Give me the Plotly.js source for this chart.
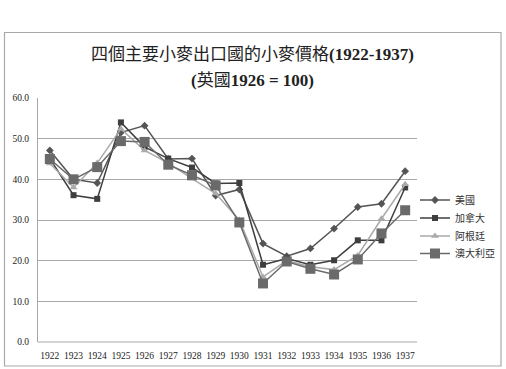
<!DOCTYPE html>
<html>
<head>
<meta charset="utf-8">
<script src="https://cdn.plot.ly/plotly-3.0.1.min.js"></script>
<style>html,body{margin:0;padding:0;background:#fff;}</style>
</head>
<body>
<div id="chart" style="width:506px;height:369px;"></div>
<script>
const years = ["1922","1923","1924","1925","1926","1927","1928","1929","1930","1931","1932","1933","1934","1935","1936","1937"];
const usa       = [47.1, 40.0, 39.1, 51.5, 53.2, 45.0, 45.1, 36.0, 37.5, 24.2, 21.1, 23.0, 27.9, 33.2, 34.0, 42.0];
const canada    = [45.1, 36.1, 35.2, 54.0, 48.0, 45.1, 42.9, 39.0, 39.1, 19.0, 20.5, 19.0, 20.1, 25.0, 25.0, 38.0];
const argentina = [43.9, 38.0, 44.0, 52.4, 47.1, 44.0, 40.2, 36.5, 30.0, 16.0, 20.0, 18.5, 17.8, 21.3, 30.3, 38.8];
const australia = [45.0, 40.0, 43.0, 49.4, 49.2, 43.6, 41.0, 38.5, 29.4, 14.4, 19.8, 18.0, 16.6, 20.3, 26.7, 32.4];
const seriesNames = ["美國", "加拿大", "阿根廷", "澳大利亞"];
const yTicks = [0, 10, 20, 30, 40, 50, 60];
const yTickText = ["0.0", "10.0", "20.0", "30.0", "40.0", "50.0", "60.0"];

const serif = "Liberation Serif, 'Noto Sans CJK TC', serif";
const styles = [
  {color: "#555555", symbol: "diamond", size: 6},
  {color: "#3e3e3e", symbol: "square", size: 6},
  {color: "#aaaaaa", symbol: "triangle-up", size: 7},
  {color: "#6a6a6a", symbol: "square", size: 10}
];
const legendIds = ["legend", "legend2", "legend3", "legend4"];
const legendY = [200, 218, 236, 253.5];

const data = [usa, canada, argentina, australia].map((vals, i) => ({
  type: "scatter", mode: "lines+markers", x: years, y: vals, name: seriesNames[i],
  legend: legendIds[i],
  line: {color: styles[i].color, width: 1.5},
  marker: {color: styles[i].color, symbol: styles[i].symbol, size: styles[i].size}
}));

// plot area pixels
const L = 38, R = 417, T = 98, B = 342, W = 506, H = 369;
const px = x => (x - L) / (R - L);
const py = y => (B - y) / (B - T);

const layout = {
  width: W, height: H,
  margin: {l: L, r: W - R, t: T, b: H - B, pad: 0, autoexpand: false},
  paper_bgcolor: "#fff", plot_bgcolor: "#fff",
  showlegend: true,
  xaxis: {type: "category", range: [-0.5, 15.5], showgrid: false, zeroline: false,
    showline: false, ticks: "", ticklabelstandoff: 6, automargin: false,
    tickfont: {family: serif, size: 9.5, color: "#222"}, fixedrange: true},
  yaxis: {range: [0, 60], tickvals: yTicks, ticktext: yTickText, showgrid: true,
    gridcolor: "#a8a8a8", gridwidth: 1, zeroline: false, showline: true, automargin: false,
    linecolor: "#a8a8a8", linewidth: 1, ticks: "", ticklabelstandoff: 6,
    tickfont: {family: serif, size: 9.5, color: "#222"}, fixedrange: true},
  shapes: [
    {type: "rect", xref: "paper", yref: "paper", x0: px(4.5), x1: px(501), y0: py(366), y1: py(32.5),
      line: {color: "#aaaaaa", width: 1.2}, fillcolor: "rgba(0,0,0,0)", layer: "below"},
    {type: "line", xref: "paper", yref: "paper", x0: 0, x1: 1, y0: 0, y1: 0,
      line: {color: "#a8a8a8", width: 1}, layer: "below"}
  ],
  annotations: [
    {xref: "paper", yref: "paper", x: px(252), y: py(55), xanchor: "center", yanchor: "middle",
      text: "四個主要小麥出口國的小麥價格<b>(1922-1937)</b>", showarrow: false,
      font: {family: serif, size: 17, color: "#222"}},
    {xref: "paper", yref: "paper", x: px(252), y: py(80), xanchor: "center", yanchor: "middle",
      text: "<b>(</b>英國<b>1926 = 100)</b>", showarrow: false,
      font: {family: serif, size: 17, color: "#222"}}
  ]
};
legendIds.forEach((id, i) => {
  layout[id] = {xref: "container", yref: "container", x: 415 / W, y: 1 - legendY[i] / H,
    xanchor: "left", yanchor: "middle",
    font: {family: "'Noto Sans CJK TC', sans-serif", size: 10, color: "#333"},
    itemwidth: 30, bgcolor: "rgba(0,0,0,0)", borderwidth: 0};
});
Plotly.newPlot("chart", data, layout, {displayModeBar: false, staticPlot: true});
</script>
</body>
</html>
